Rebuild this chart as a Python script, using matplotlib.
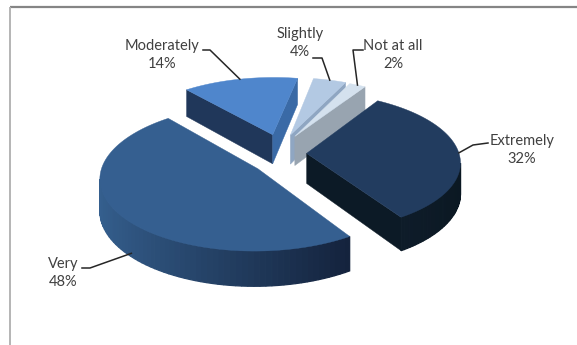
import numpy as np
import matplotlib
matplotlib.use('Agg')
import matplotlib.pyplot as plt
from matplotlib.colors import to_rgb

labels = ['Extremely', 'Very', 'Moderately', 'Slightly', 'Not at all']
values = [32, 48, 14, 4, 2]

# per slice styling
explode_u = [0.155, -0.16, -0.07, 0.05, 0.08]
explode_v = [-0.02, -0.24, 0.262, 0.257, 0.236]
top_col = ['#223c5f', '#355f90', '#4f86cc', '#b3c9e3', '#d4e1ee']
wall_l = ['#0e1c2a', '#35608f', '#3f70ad', '#9fb6d2', '#aab6c2']
wall_r = ['#0b1822', '#14233d', '#3a6aa6', '#8fa6c2', '#9aa5b0']
cut0_col = ['#0c1a26', '#14233d', '#20375a', '#a5bcd8', '#aab6c2']
cut1_col = ['#0c1a26', '#14233d', '#3a6aa6', '#8fa6c2', '#98a4b0']
label_xy = [(522, 150), (63, 273), (162, 55), (300, 43), (393, 55)]
leader_knee = [[(488, 143), (473, 145)], [(82, 268), (90, 268)], [(203, 50), (210, 50)],
               [(313, 58), (322, 58)], [(363, 50), (353, 50)]]
leader_drop = [0.0, 0.9, 0.0, 0.0, 0.0]
leader_shift = [0, -7, 0, 0, 0]

CX, CY = 283, 152
A, B, K, DEPTH = 152, 68, 0.12, 30
START = 32


def project(u, v, h=0.0):
    s = 1 / (1 + K * v)
    return CX + A * u * s, CY - B * v * s + DEPTH * h * s


def mix(c1, c2, t):
    a, b = np.array(to_rgb(c1)), np.array(to_rgb(c2))
    return tuple(a + (b - a) * t)


def area(p):
    p = np.array(p)
    x, y = p[:, 0], p[:, 1]
    return 0.5 * np.sum(x * np.roll(y, -1) - np.roll(x, -1) * y)


fig = plt.figure(figsize=(5.77, 3.45), dpi=100)
ax = fig.add_axes([0, 0, 1, 1])
ax.set_xlim(0, 577)
ax.set_ylim(345, 0)
ax.axis('off')

# chart frame
ax.plot([10, 577], [7, 7], color='#858585', lw=1.6, solid_capstyle='butt')
ax.plot([10, 10], [7, 345], color='#b4b4b4', lw=1.4, solid_capstyle='butt')

shares = np.array(values) / sum(values) * 360
starts = START + np.concatenate([[0], np.cumsum(shares)[:-1]])

# far slices first
mids = np.radians(starts + shares / 2)
order = np.argsort(-np.cos(mids))

for i in order:
    t0, t1 = np.radians(starts[i]), np.radians(starts[i] + shares[i])
    du, dv = explode_u[i], explode_v[i]
    th = np.linspace(t0, t1, 90)
    us, vs = du + np.sin(th), dv + np.cos(th)

    # cut faces
    for a_u, a_v, flip, col in [(us[0], vs[0], 1, cut0_col[i]), (us[-1], vs[-1], -1, cut1_col[i])]:
        quad = [project(du, dv), project(a_u, a_v), project(a_u, a_v, 1), project(du, dv, 1)]
        if flip * area(quad) < 0:
            ax.fill(*zip(*quad), color=col, lw=0.3, zorder=3)

    # outer wall, thin strips for the gradient
    umin, umax = us.min(), us.max()
    for j in range(len(th) - 1):
        quad = [project(us[j], vs[j]), project(us[j + 1], vs[j + 1]),
                project(us[j + 1], vs[j + 1], 1), project(us[j], vs[j], 1)]
        if area(quad) < 0:
            f = (us[j] - umin) / (umax - umin)
            c = mix(wall_l[i], wall_r[i], f)
            ax.fill(*zip(*quad), color=c, lw=0.9, zorder=3)

    # top
    pts = [project(du, dv)] + [project(u, v) for u, v in zip(us, vs)]
    ax.fill(*zip(*pts), color=top_col[i], lw=0.3, zorder=4)

    # leader and label
    lt = mids[i] + np.radians(leader_shift[i])
    ex, ey = project(du + np.sin(lt), dv + np.cos(lt), leader_drop[i])
    xs = [p[0] for p in leader_knee[i]] + [ex]
    ys = [p[1] for p in leader_knee[i]] + [ey]
    ax.plot(xs, ys, color='#262626', lw=1.1, zorder=5)
    ax.text(label_xy[i][0], label_xy[i][1], '%s\n%d%%' % (labels[i], values[i]),
            ha='center', va='center', fontsize=10.5, family='Lato', color='#404040',
            linespacing=1.4, zorder=6)

fig.savefig('out.png', dpi=100)
